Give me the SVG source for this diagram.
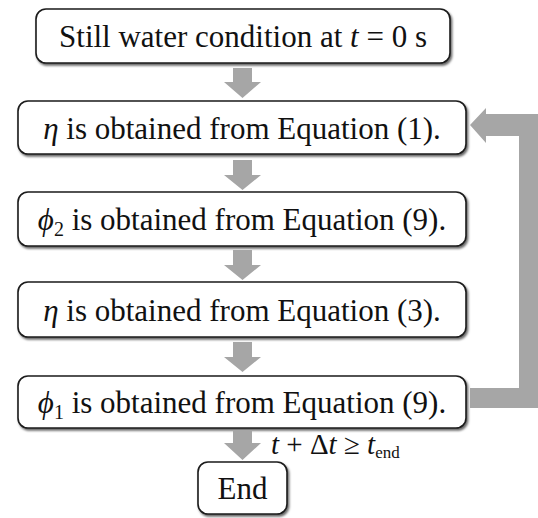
<svg xmlns="http://www.w3.org/2000/svg" width="538" height="518" viewBox="0 0 538 518">
<style>
.box{fill:#ffffff;stroke:#1a1a1a;stroke-width:1.6;filter:url(#sh)}
.t{font-family:"Liberation Serif","Times New Roman",serif;font-size:31px;fill:#111;text-anchor:middle}
.i{font-style:italic}
.sub{font-size:20px}
.arr{fill:#a6a6a6}
.lbl{font-family:"Liberation Serif","Times New Roman",serif;font-size:29px;fill:#111}
</style>
<defs>
<filter id="sh" x="-5%" y="-20%" width="115%" height="150%">
<feDropShadow dx="1.5" dy="2" stdDeviation="1.2" flood-color="#000" flood-opacity="0.6"/>
</filter>
</defs>
<g id="n1"><rect class="box" x="36" y="9" width="414" height="54" rx="10"/>
<text class="t" x="243" y="47">Still water condition at <tspan class="i">t</tspan> = 0 s</text></g>
<g id="n2"><rect class="box" x="18" y="101" width="448" height="53" rx="10"/>
<text class="t" x="242" y="139"><tspan class="i">η</tspan> is obtained from Equation (1).</text></g>
<g id="n3"><rect class="box" x="18" y="192" width="448" height="54" rx="10"/>
<text class="t" x="242" y="230"><tspan class="i">ϕ</tspan><tspan class="sub" dy="6">2</tspan><tspan dy="-6"> is obtained from Equation (9).</tspan></text></g>
<g id="n4"><rect class="box" x="18" y="282" width="448" height="55" rx="10"/>
<text class="t" x="242" y="321"><tspan class="i">η</tspan> is obtained from Equation (3).</text></g>
<g id="n5"><rect class="box" x="18" y="376" width="448" height="52" rx="10"/>
<text class="t" x="242" y="413"><tspan class="i">ϕ</tspan><tspan class="sub" dy="6">1</tspan><tspan dy="-6"> is obtained from Equation (9).</tspan></text></g>
<g id="n6"><rect class="box" x="198" y="462" width="89" height="52" rx="10"/>
<text class="t" x="242.5" y="499">End</text></g>
<g id="connectors">
<polygon class="arr" points="233,68 252,68 252,82 261,82 242.5,98 224,82 233,82"/>
<polygon class="arr" points="233,160 252,160 252,175 261,175 242.5,190 224,175 233,175"/>
<polygon class="arr" points="233,250 252,250 252,265 261,265 242.5,280 224,265 233,265"/>
<polygon class="arr" points="233,342 252,342 252,357 261,357 242.5,372 224,357 233,357"/>
<polygon class="arr" points="233,431 252,431 252,443 261,443 242.5,460 224,443 233,443"/>
<polygon class="arr" points="470,125 486,108 486,114 538,114 538,408 470,408 470,388 519,388 519,136 486,136 486,143"/>
<text class="lbl" x="271" y="454"><tspan class="i">t</tspan> + Δ<tspan class="i">t</tspan> ≥ <tspan class="i">t</tspan><tspan font-size="17" dy="4">end</tspan></text>
</g>
</svg>
